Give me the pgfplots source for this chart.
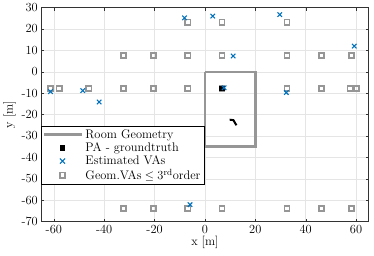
\documentclass[border=0pt]{standalone}
\usepackage{pgfplots}
\pgfplotsset{compat=1.18}
\usepackage{amsmath}
\definecolor{mblue}{RGB}{0,114,189}
\definecolor{mgray}{RGB}{150,150,150}
\begin{document}
\begin{tikzpicture}[font=\fontsize{12}{14}\selectfont]
\begin{axis}[
  scale only axis, width=330pt, height=215.7pt,
  xmin=-65, xmax=65, ymin=-70, ymax=30,
  xtick={-60,-40,-20,0,20,40,60},
  xticklabels={-60,-40,-20,0,20,40,60},
  ytick={-70,-60,-50,-40,-30,-20,-10,0,10,20,30},
  yticklabels={-70,-60,-50,-40,-30,-20,-10,0,10,20,30},
  tick label style={font=\fontsize{12.5}{14}\selectfont},
  label style={font=\fontsize{12.5}{14}\selectfont},
  tick align=inside, tick pos=both,
  major tick length=3pt,
  grid=major, grid style={gray!20, line width=0.4pt},
  axis line style={black!80, line width=0.5pt},
  tick style={black!80},
  xlabel={x [m]}, ylabel={y [m]},
  xlabel style={yshift=4pt}, ylabel style={yshift=-1pt},
  legend style={at={(axis cs:-65,-25.2)}, anchor=north west, draw=black, line width=0.4pt, font=\fontsize{12.5}{14}\selectfont, row sep=-1pt, inner sep=1.5pt, cells={anchor=west}},
  legend cell align=left,
]
\addplot[mgray, line width=2.5pt, forget plot] coordinates {(0,0)(20,0)(20,-35)(0,-35)(0,0)};
\addlegendimage{mgray, line width=2.5pt, legend image code/.code={\draw[mgray,line width=2.5pt] (-0.05cm,0cm) -- (1.3cm,0cm);}}
\addlegendentry{Room Geometry}
% Geometric VAs
\addplot[only marks, mark=square, mark size=2.6pt, mgray, line width=1.7pt, forget plot] coordinates {
(-6.8,23.2)(6.8,23.2)(32.6,23.2)
(-32.4,7.6)(-20.5,7.6)(-6.8,7.6)(6.8,7.6)(32.6,7.6)(46.2,7.6)(58.1,7.6)
(-61.4,-7.8)(-57.9,-7.8)(-46.1,-7.8)(-32.4,-7.8)(-20.5,-7.8)(-6.8,-7.8)(6.8,-7.8)(32.6,-7.8)(46.2,-7.8)(57.6,-7.8)(60.2,-7.8)
(-32.4,-63.8)(-20.5,-63.8)(-6.8,-63.8)(6.8,-63.8)(32.6,-63.8)(46.2,-63.8)(58.1,-63.8)
};
% PA groundtruth
\addplot[only marks, mark=square*, mark size=2.2pt, black, forget plot] coordinates {(6.6,-7.6)};
\addplot[black, line width=2pt, forget plot] coordinates {(9.8,-22.4)(11.3,-22.6)(12.0,-24.0)(12.5,-25.0)};
\addlegendimage{legend image code/.code={\fill[black] (0.6cm-2.2pt,-2.2pt) rectangle (0.6cm+2.2pt,2.2pt);}}
\addlegendentry{PA - groundtruth}
% Estimated VAs
\addplot[only marks, mark=x, mark size=3.2pt, mblue, line width=1.1pt, legend image code/.code={\draw[mblue,line width=1.1pt] (0.6cm-2.6pt,-2.6pt) -- (0.6cm+2.6pt,2.6pt) (0.6cm-2.6pt,2.6pt) -- (0.6cm+2.6pt,-2.6pt);}] coordinates {
(-61.3,-9.3)(-48.5,-8.8)(-42,-14.1)(-8.1,25.2)(3.1,26)(11.2,7.4)(7.6,-7.5)(29.7,26.7)(32.3,-9.7)(59.3,12)(-5.9,-62.1)
};
\addlegendentry{Estimated VAs}
\addlegendimage{legend image code/.code={\draw[mgray,line width=1.7pt] (0.6cm-2.6pt,-2.6pt) rectangle (0.6cm+2.6pt,2.6pt);}}
\addlegendentry{Geom.VAs$\;\leq\;$3$^{\mathrm{rd}}$order}
\end{axis}
\path[use as bounding box] (current axis.south west) ++(-38.3pt,-34.7pt) rectangle ([xshift=5.4pt,yshift=3.6pt]current axis.north east);
\end{tikzpicture}
\end{document}
